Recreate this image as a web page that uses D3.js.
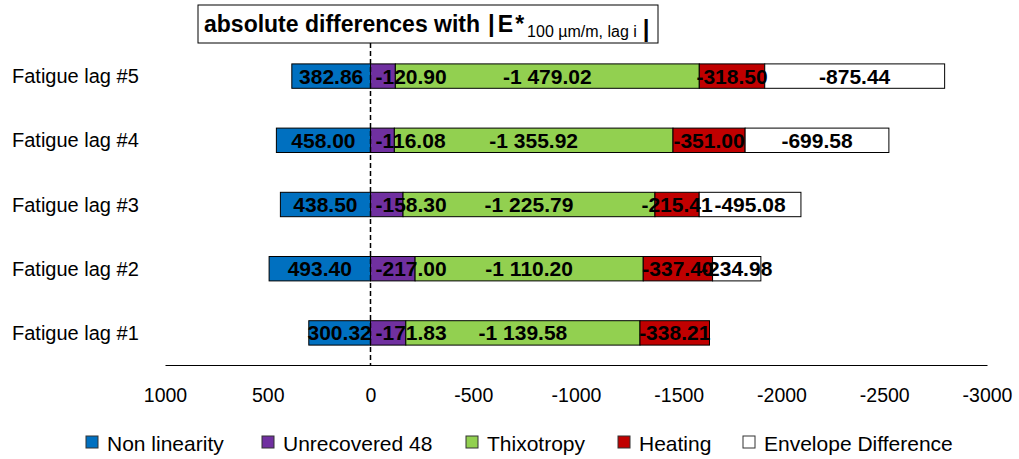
<!DOCTYPE html>
<html><head><meta charset="utf-8">
<script src="https://cdn.jsdelivr.net/npm/d3@7"></script>
<style>body{margin:0;background:#fff}svg{display:block}</style>
</head><body>
<svg id="c" width="1019" height="459"></svg>
<script>
const categories = ["Fatigue lag #5","Fatigue lag #4","Fatigue lag #3","Fatigue lag #2","Fatigue lag #1"];
const seriesNames = ["Non linearity","Unrecovered 48","Thixotropy","Heating","Envelope Difference"];
const nonLinearity = [382.86, 458.00, 438.50, 493.40, 300.32];
const unrecovered48 = [-120.90, -116.08, -158.30, -217.00, -171.83];
const thixotropy = [-1479.02, -1355.92, -1225.79, -1110.20, -1139.58];
const heating = [-318.50, -351.00, -215.41, -337.40, -338.21];
const envelopeDiff = [-875.44, -699.58, -495.08, -234.98, null];
const xTicks = [1000, 500, 0, -500, -1000, -1500, -2000, -2500, -3000];
const colors = ["#0070C0","#7030A0","#92D050","#C00000","#FFFFFF"];
// label position per series: centered, except "Unrecovered 48" which sits at the inside base
const labelPos = ["center","base","center","center","center"];

const seriesValues = [nonLinearity, unrecovered48, thixotropy, heating, envelopeDiff];
const svg = d3.select("#c");
const font = "'Liberation Sans', Arial, sans-serif";

const x = d3.scaleLinear().domain([1000, -3000]).range([165, 987]);
const y = d3.scaleBand().domain(categories).range([44, 365]).paddingInner(0.62).paddingOuter(0.31);

function segments(i) {
  let posBase = 0, negBase = 0;
  const out = [];
  seriesValues.forEach((vals, s) => {
    const v = vals[i];
    if (v == null) return;
    let a, b;
    if (v >= 0) { a = posBase; b = posBase + v; posBase = b; }
    else { a = negBase; b = negBase + v; negBase = b; }
    out.push({s, v, a, b});
  });
  return out;
}

categories.forEach((cat, i) => {
  segments(i).forEach(d => {
    const x0 = Math.min(x(d.a), x(d.b)), x1 = Math.max(x(d.a), x(d.b));
    svg.append("rect").attr("x", x0).attr("y", y(cat)).attr("width", x1 - x0)
      .attr("height", y.bandwidth()).attr("fill", colors[d.s]).attr("stroke", "#000").attr("stroke-width", 1);
  });
});
categories.forEach((cat, i) => {
  segments(i).forEach(d => {
    const fmt = d3.format(",.2f")(d.v).replace(/,/g, " ").replace("\u2212", "-");
    const base = labelPos[d.s] === "base";
    svg.append("text")
      .attr("x", base ? x(d.a) + 5 : (x(d.a) + x(d.b)) / 2)
      .attr("y", y(cat) + y.bandwidth() / 2 + 7.5)
      .attr("text-anchor", base ? "start" : "middle").attr("font-family", font).attr("font-weight", "bold")
      .attr("font-size", 21).attr("fill", "#000").text(fmt);
  });
});

// zero dashed line
svg.append("line").attr("x1", x(0)).attr("x2", x(0)).attr("y1", 43).attr("y2", 365)
  .attr("stroke", "#000").attr("stroke-width", 1.5).attr("stroke-dasharray", "5,3");

// axis
const ax = svg.append("g").attr("transform", "translate(0,365)")
  .call(d3.axisBottom(x).tickValues(xTicks).tickSize(0).tickPadding(23).tickFormat(d => String(d)));
ax.select(".domain").attr("stroke", "#000").attr("stroke-width", 1.2);
ax.selectAll("text").attr("font-family", font).attr("font-size", 19.5).attr("fill", "#000");

// category labels
svg.append("g").selectAll("text").data(categories).join("text")
  .attr("x", 12).attr("y", d => y(d) + y.bandwidth() / 2 + 7)
  .attr("font-family", font).attr("font-size", 20).attr("fill", "#000").text(d => d);

// title box
svg.append("rect").attr("x", 198).attr("y", 5).attr("width", 460).attr("height", 38)
  .attr("fill", "#fff").attr("stroke", "#000").attr("stroke-width", 1);
const t = svg.append("text").attr("x", 204).attr("y", 32).attr("font-family", font)
  .attr("font-weight", "bold").attr("font-size", 23).attr("fill", "#000");
t.append("tspan").text("absolute differences with");
t.append("tspan").attr("dx", 8).attr("font-size", 24).text("|");
t.append("tspan").attr("dx", 3).text("E");
t.append("tspan").attr("dx", 2).text("*");
t.append("tspan").attr("font-size", 16).attr("font-weight", "normal").attr("dx", 3).attr("dy", 5).text("100 µm/m, lag i");
t.append("tspan").attr("dx", 6).attr("dy", 0).attr("font-size", 24).text("|");

// legend
const legX = [86, 262, 466, 618, 743];
const leg = svg.append("g");
seriesNames.forEach((n, i) => {
  leg.append("rect").attr("x", legX[i]).attr("y", 436).attr("width", 12).attr("height", 12)
    .attr("fill", colors[i]).attr("stroke", "#333").attr("stroke-width", 1);
  leg.append("text").attr("x", legX[i] + 21).attr("y", 451).attr("font-family", font)
    .attr("font-size", 21).attr("fill", "#000").text(n);
});
</script>
</body></html>
